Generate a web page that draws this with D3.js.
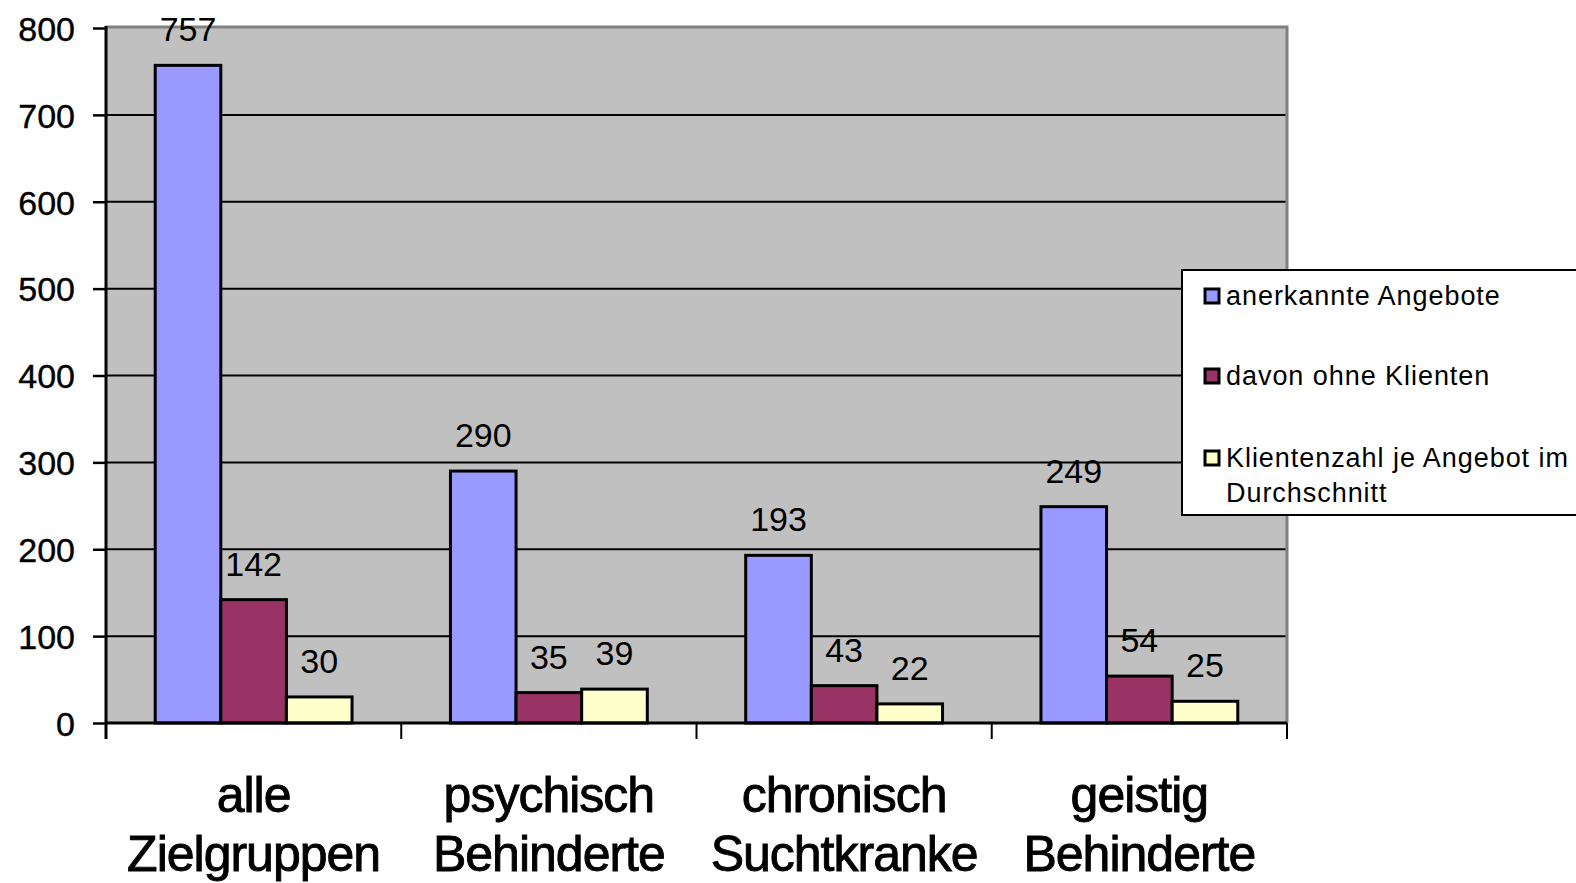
<!DOCTYPE html>
<html>
<head>
<meta charset="utf-8">
<script src="https://cdn.jsdelivr.net/npm/d3@7"></script>
<style>
  html, body { margin: 0; padding: 0; background: #ffffff; }
  svg { display: block; font-family: "Liberation Sans", Arial, sans-serif; }
</style>
</head>
<body>
<script>
// categories (two-line labels)
const categories = ["alle|Zielgruppen", "psychisch|Behinderte", "chronisch|Suchtkranke", "geistig|Behinderte"];
const seriesNames = ["anerkannte Angebote", "davon ohne Klienten", "Klientenzahl je Angebot im|Durchschnitt"];
const seriesColors = ["#9999ff", "#993366", "#ffffcc"];
const anerkannt = [757, 290, 193, 249];
const ohneKlienten = [142, 35, 43, 54];
const klientenJeAngebot = [30, 39, 22, 25];
const yTicks = [0, 100, 200, 300, 400, 500, 600, 700, 800];

const width = 1576, height = 883;
const plot = { left: 106, right: 1287, top: 28, bottom: 723 };

const svg = d3.select("body").append("svg")
  .attr("width", width)
  .attr("height", height);

const x = d3.scaleBand()
  .domain(categories)
  .range([plot.left, plot.right])
  .paddingInner(0)
  .paddingOuter(0);

const xSub = d3.scaleBand()
  .domain(d3.range(seriesNames.length))
  .range([0, x.bandwidth()])
  .paddingOuter(0.75)
  .paddingInner(0);

const y = d3.scaleLinear().domain([0, 800]).range([plot.bottom, plot.top]);

// plot background
svg.append("rect")
  .attr("x", plot.left).attr("y", plot.top)
  .attr("width", plot.right - plot.left).attr("height", plot.bottom - plot.top)
  .attr("fill", "#c0c0c0");
// top and right gray border
svg.append("path")
  .attr("d", `M${plot.left},${plot.top - 1}H${plot.right}V${plot.bottom}`)
  .attr("fill", "none").attr("stroke", "#808080").attr("stroke-width", 3);

// gridlines
svg.append("g")
  .selectAll("line")
  .data(yTicks.filter((t) => t > 0 && t < 800))
  .join("line")
  .attr("x1", plot.left).attr("x2", plot.right - 1.5)
  .attr("y1", (t) => y(t)).attr("y2", (t) => y(t))
  .attr("stroke", "#000").attr("stroke-width", 2);

// bars
const seriesValues = [anerkannt, ohneKlienten, klientenJeAngebot];
const barData = [];
categories.forEach((cat, ci) => {
  seriesValues.forEach((vals, si) => {
    barData.push({ cat, si, value: vals[ci] });
  });
});

svg.append("g")
  .selectAll("rect")
  .data(barData)
  .join("rect")
  .attr("x", (d) => x(d.cat) + xSub(d.si))
  .attr("y", (d) => y(d.value))
  .attr("width", xSub.bandwidth())
  .attr("height", (d) => y(0) - y(d.value))
  .attr("fill", (d) => seriesColors[d.si])
  .attr("stroke", "#000")
  .attr("stroke-width", 3);

// value labels
svg.append("g")
  .selectAll("text")
  .data(barData)
  .join("text")
  .attr("x", (d) => x(d.cat) + xSub(d.si) + xSub.bandwidth() / 2)
  .attr("y", (d) => y(d.value) - 24)
  .attr("text-anchor", "middle")
  .attr("font-size", 34)
  .attr("fill", "#000")
  .text((d) => d.value);

// y axis
const yAxis = svg.append("g")
  .attr("transform", `translate(${plot.left},0)`)
  .call(d3.axisLeft(y).tickValues(yTicks).tickSize(13).tickPadding(18));
yAxis.select(".domain").attr("stroke", "#000").attr("stroke-width", 3)
  .attr("d", `M0,${plot.top - 2}V${plot.bottom + 16}`);
yAxis.selectAll(".tick line").attr("stroke", "#000").attr("stroke-width", 2.5);
yAxis.selectAll(".tick text")
  .attr("font-size", 34).attr("font-family", "'Liberation Sans', Arial, sans-serif")
  .attr("dy", "0.36em")
  .attr("fill", "#000")
  .attr("stroke", "#000").attr("stroke-width", 0.4);

// x axis baseline and ticks
svg.append("line")
  .attr("x1", plot.left).attr("x2", plot.right)
  .attr("y1", plot.bottom).attr("y2", plot.bottom)
  .attr("stroke", "#000").attr("stroke-width", 3);
const xTickPos = categories.map((c) => x(c)).concat([x.range()[1]]);
svg.append("g")
  .selectAll("line")
  .data(xTickPos)
  .join("line")
  .attr("x1", (d) => d).attr("x2", (d) => d)
  .attr("y1", plot.bottom).attr("y2", plot.bottom + 16)
  .attr("stroke", "#000").attr("stroke-width", 2);

// category labels
const catLabels = svg.append("g")
  .selectAll("text")
  .data(categories)
  .join("text")
  .attr("text-anchor", "middle")
  .attr("font-size", 50)
  .attr("letter-spacing", -1)
  .attr("fill", "#000")
  .attr("stroke", "#000").attr("stroke-width", 0.9);
catLabels.each(function (d) {
  const lines = d.split("|");
  d3.select(this).selectAll("tspan")
    .data(lines)
    .join("tspan")
    .attr("x", x(d) + x.bandwidth() / 2)
    .attr("y", (_, i) => 812 + i * 59)
    .text((t) => t);
});

// legend
const legend = svg.append("g");
legend.append("rect")
  .attr("x", 1182).attr("y", 270)
  .attr("width", 420).attr("height", 245)
  .attr("fill", "#fff").attr("stroke", "#000").attr("stroke-width", 2);
const legendY = [296, 376, 458];
seriesNames.forEach((name, i) => {
  legend.append("rect")
    .attr("x", 1205).attr("y", legendY[i] - 7)
    .attr("width", 14).attr("height", 14)
    .attr("fill", seriesColors[i]).attr("stroke", "#000").attr("stroke-width", 3);
  const t = legend.append("text")
    .attr("font-size", 27)
    .attr("letter-spacing", 0.95)
    .attr("fill", "#000");
  name.split("|").forEach((line, li) => {
    t.append("tspan")
      .attr("x", 1226)
      .attr("y", legendY[i] + 9 + li * 35)
      .text(line);
  });
});
</script>
</body>
</html>
